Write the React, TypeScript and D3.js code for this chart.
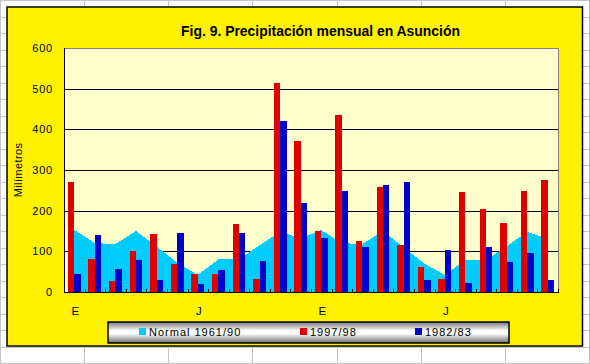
import React, { useEffect, useRef } from 'react';
import * as d3 from 'd3';

// 24 meses, etiquetas solo cada 6
const months = d3.range(24);
const xLabels = ['E', '', '', '', '', '', 'J', '', '', '', '', '', 'E', '', '', '', '', '', 'J', '', '', '', '', ''];
const normal = [153, 120, 118, 150, 112, 72, 42, 80, 80, 115, 149, 132, 152, 120, 118, 150, 110, 70, 42, 79, 79, 112, 148, 131];
const p9798 = [270, 81, 27, 101, 143, 69, 44, 44, 167, 32, 514, 371, 150, 435, 125, 258, 116, 61, 32, 246, 204, 170, 248, 275];
const p8283 = [44, 140, 56, 79, 29, 145, 20, 54, 145, 76, 420, 219, 133, 248, 111, 263, 270, 30, 103, 22, 111, 74, 96, 29];
const yTicks = [0, 100, 200, 300, 400, 500, 600];
const legendNames = ['Normal 1961/90', '1997/98', '1982/83'];

function App() {
  const svgRef = useRef<SVGSVGElement>(null);

  useEffect(() => {
    const svg = d3.select(svgRef.current);
    svg.selectAll('*').remove();
    const width = 590,
      height = 364;
    const left = 64,
      right = 558,
      top = 48,
      bottom = 292;
    const font = "'Liberation Sans', Arial, sans-serif";
    const colors = ['#00ccff', '#e00000', '#0000cc'];

    // hoja de cálculo detrás del gráfico
    svg.append('rect').attr('width', width).attr('height', height).attr('fill', '#fff');
    const sheet = svg.append('g').attr('stroke', '#c4c4c4').attr('stroke-width', 1);
    [0.5, 84.5, 168.5, 252.5, 337.5, 421.5, 505.5, 589.5].forEach((cx) =>
      sheet.append('line').attr('x1', cx).attr('x2', cx).attr('y1', 0).attr('y2', height),
    );
    d3.range(0, 23).forEach((k) => {
      const cy = Math.round(16.5 * k) + 0.5;
      sheet.append('line').attr('x1', 0).attr('x2', width).attr('y1', cy).attr('y2', cy);
    });

    // fondo amarillo del gráfico
    svg
      .append('rect')
      .attr('x', 7)
      .attr('y', 7)
      .attr('width', 575.5)
      .attr('height', 339)
      .attr('fill', '#fff200')
      .attr('stroke', '#000')
      .attr('stroke-width', 1.5);

    const x = d3.scaleBand<number>().domain(months).range([left, right]);
    const y = d3.scaleLinear().domain([0, 600]).range([bottom, top]);
    const bw = x.bandwidth();
    const group = bw / 1.6;
    const barW = group / 2;
    const cx = (i: number) => (x(i) as number) + bw / 2;

    // área del gráfico
    svg
      .append('rect')
      .attr('x', left)
      .attr('y', top)
      .attr('width', right - left)
      .attr('height', bottom - top)
      .attr('fill', '#ffffcc');
    svg
      .append('polyline')
      .attr('points', `${left},${top + 0.5} ${right + 0.5},${top + 0.5} ${right + 0.5},${bottom}`)
      .attr('fill', 'none')
      .attr('stroke', '#808080');

    // líneas de división
    svg
      .append('g')
      .selectAll('line')
      .data(yTicks.filter((t) => t > 0 && t < 600))
      .join('line')
      .attr('x1', left)
      .attr('x2', right)
      .attr('y1', (d) => Math.round(y(d)) + 0.5)
      .attr('y2', (d) => Math.round(y(d)) + 0.5)
      .attr('stroke', '#000');

    // normal como área
    const areaGen = d3
      .area<number>()
      .x((d, i) => cx(i))
      .y0(y(0))
      .y1((d) => y(d));
    svg
      .append('path')
      .attr('d', areaGen(normal))
      .attr('fill', colors[0])
      .attr('shape-rendering', 'crispEdges');

    // columnas
    [p9798, p8283].forEach((serie, s) => {
      svg
        .append('g')
        .selectAll('rect')
        .data(serie)
        .join('rect')
        .attr('x', (d, i) => (x(i) as number) + (bw - group) / 2 + s * barW)
        .attr('y', (d) => y(d))
        .attr('width', barW)
        .attr('height', (d) => y(0) - y(d))
        .attr('fill', colors[s + 1])
        .attr('shape-rendering', 'crispEdges');
    });

    // ejes
    svg.append('line').attr('x1', left + 0.5).attr('x2', left + 0.5).attr('y1', top).attr('y2', bottom + 1).attr('stroke', '#000');
    svg.append('line').attr('x1', left).attr('x2', right + 1).attr('y1', bottom + 0.5).attr('y2', bottom + 0.5).attr('stroke', '#000');
    svg
      .append('g')
      .selectAll('line')
      .data(months.map((m) => m + 1))
      .join('line')
      .attr('x1', (d) => Math.round(left + d * bw) + 0.5)
      .attr('x2', (d) => Math.round(left + d * bw) + 0.5)
      .attr('y1', bottom - 3)
      .attr('y2', bottom)
      .attr('stroke', '#000');

    svg
      .append('g')
      .selectAll('text')
      .data(yTicks)
      .join('text')
      .attr('x', 53)
      .attr('y', (d) => y(d) + 4)
      .attr('text-anchor', 'end')
      .attr('font-family', font)
      .attr('font-size', 11)
      .attr('letter-spacing', 0.8)
      .text((d) => d);

    svg
      .append('g')
      .selectAll('text')
      .data(xLabels)
      .join('text')
      .attr('x', (d, i) => cx(i) + 1)
      .attr('y', 315)
      .attr('text-anchor', 'middle')
      .attr('font-family', font)
      .attr('font-size', 11.5)
      .text((d) => d);

    svg
      .append('text')
      .attr('transform', 'translate(22,170) rotate(-90)')
      .attr('text-anchor', 'middle')
      .attr('font-family', font)
      .attr('font-size', 11)
      .attr('letter-spacing', 0.4)
      .text('Milímetros');

    // título
    svg
      .append('text')
      .attr('x', 181)
      .attr('y', 36)
      .attr('font-family', "'Liberation Sans Narrow', 'Liberation Sans', Arial, sans-serif")
      .attr('font-weight', 'bold')
      .attr('font-size', 15)
      .attr('textLength', 279)
      .attr('lengthAdjust', 'spacingAndGlyphs')
      .text('Fig. 9. Precipitación mensual en Asunción');

    // leyenda con degradado metálico
    const grad = svg
      .append('defs')
      .append('linearGradient')
      .attr('id', 'metal')
      .attr('x1', 0)
      .attr('x2', 0)
      .attr('y1', 0)
      .attr('y2', 1);
    [
      [0, '#7a7a7a'],
      [0.42, '#ffffff'],
      [0.55, '#ffffff'],
      [1, '#6e6e6e'],
    ].forEach(([o, c]) => grad.append('stop').attr('offset', o).attr('stop-color', c));
    svg
      .append('rect')
      .attr('x', 108)
      .attr('y', 322)
      .attr('width', 401)
      .attr('height', 21)
      .attr('fill', 'url(#metal)')
      .attr('stroke', '#000')
      .attr('stroke-width', 1.5);
    const legX = [139, 300, 415];
    const legend = svg
      .append('g')
      .selectAll('g')
      .data(legendNames)
      .join('g')
      .attr('transform', (d, i) => `translate(${legX[i]},0)`);
    legend
      .append('rect')
      .attr('y', 328)
      .attr('width', 7)
      .attr('height', 7)
      .attr('fill', (d, i) => colors[i]);
    legend
      .append('text')
      .attr('x', 10)
      .attr('y', 336)
      .attr('font-family', font)
      .attr('font-size', 11)
      .attr('letter-spacing', 1)
      .text((d) => d);
  }, []);

  return (
    <svg
      ref={svgRef}
      width={590}
      height={364}
      style={{ position: 'absolute', left: 0, top: 0, display: 'block' }}
    />
  );
}

export default App;
